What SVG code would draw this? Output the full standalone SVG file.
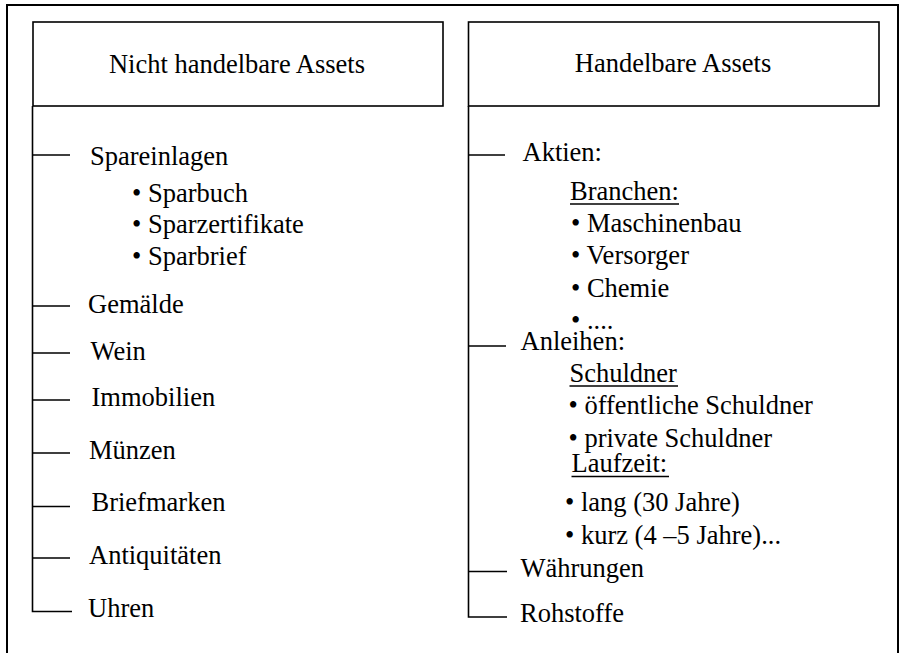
<svg xmlns="http://www.w3.org/2000/svg" width="900" height="653" viewBox="0 0 900 653">
<style>
  text { font-family: "Liberation Serif", "Times New Roman", serif; font-size: 26.5px; fill: #000; }
  .box { fill: #fff; stroke: #000; stroke-width: 1.6; }
  .frame { fill: #fff; stroke: #000; stroke-width: 2; }
  .ln { stroke: #000; stroke-width: 1.6; fill: none; }
  .ul { stroke: #000; stroke-width: 1.5; }
</style>
<rect class="frame" x="7" y="5" width="891" height="660"/>

<g id="connectors">
  <path class="ln" d="M32.5 106 V611.5 H72"/>
  <path class="ln" d="M32.5 155 H70 M32.5 306 H70 M32.5 353 H70 M32.5 400 H70 M32.5 453 H70 M32.5 506.5 H70 M32.5 558 H70"/>
  <path class="ln" d="M468.5 106 V617 H507"/>
  <path class="ln" d="M468.5 155 H505 M468.5 346 H506 M468.5 571.5 H507"/>
</g>

<g id="header-left">
  <rect class="box" x="33" y="22" width="410" height="84"/>
  <text x="237" y="72.5" text-anchor="middle">Nicht handelbare Assets</text>
</g>
<g id="header-right">
  <rect class="box" x="468.5" y="22" width="410.5" height="84"/>
  <text x="673" y="72" text-anchor="middle">Handelbare Assets</text>
</g>

<g id="spareinlagen">
  <text x="90" y="165">Spareinlagen</text>
  <text x="132" y="201.5">• Sparbuch</text>
  <text x="132" y="233">• Sparzertifikate</text>
  <text x="132" y="264.5">• Sparbrief</text>
</g>
<g id="gemaelde"><text x="88" y="312.5">Gemälde</text></g>
<g id="wein"><text x="90.5" y="360">Wein</text></g>
<g id="immobilien"><text x="91.5" y="405.5">Immobilien</text></g>
<g id="muenzen"><text x="89" y="459">Münzen</text></g>
<g id="briefmarken"><text x="91.5" y="511">Briefmarken</text></g>
<g id="antiquitaeten"><text x="89" y="564">Antiquitäten</text></g>
<g id="uhren"><text x="88" y="617">Uhren</text></g>

<g id="aktien">
  <text x="522.5" y="161">Aktien:</text>
  <text x="570" y="200">Branchen:</text>
  <line class="ul" x1="570" y1="204" x2="679" y2="204"/>
  <text x="571" y="232">• Maschinenbau</text>
  <text x="571" y="264">• Versorger</text>
  <text x="571" y="296.5">• Chemie</text>
  <text x="571" y="328.5">• ....</text>
</g>
<g id="anleihen">
  <text x="520.5" y="350">Anleihen:</text>
  <text x="569.5" y="382">Schuldner</text>
  <line class="ul" x1="569.5" y1="386" x2="678" y2="386"/>
  <text x="568.5" y="414">• öffentliche Schuldner</text>
  <text x="568.5" y="446.5">• private Schuldner</text>
  <text x="571.5" y="472">Laufzeit:</text>
  <line class="ul" x1="571.5" y1="476.5" x2="669" y2="476.5"/>
  <text x="565" y="511">• lang (30 Jahre)</text>
  <text x="565" y="543.5">• kurz (4 –5 Jahre)...</text>
</g>
<g id="waehrungen"><text x="520.5" y="577">Währungen</text></g>
<g id="rohstoffe"><text x="520" y="622">Rohstoffe</text></g>
</svg>
